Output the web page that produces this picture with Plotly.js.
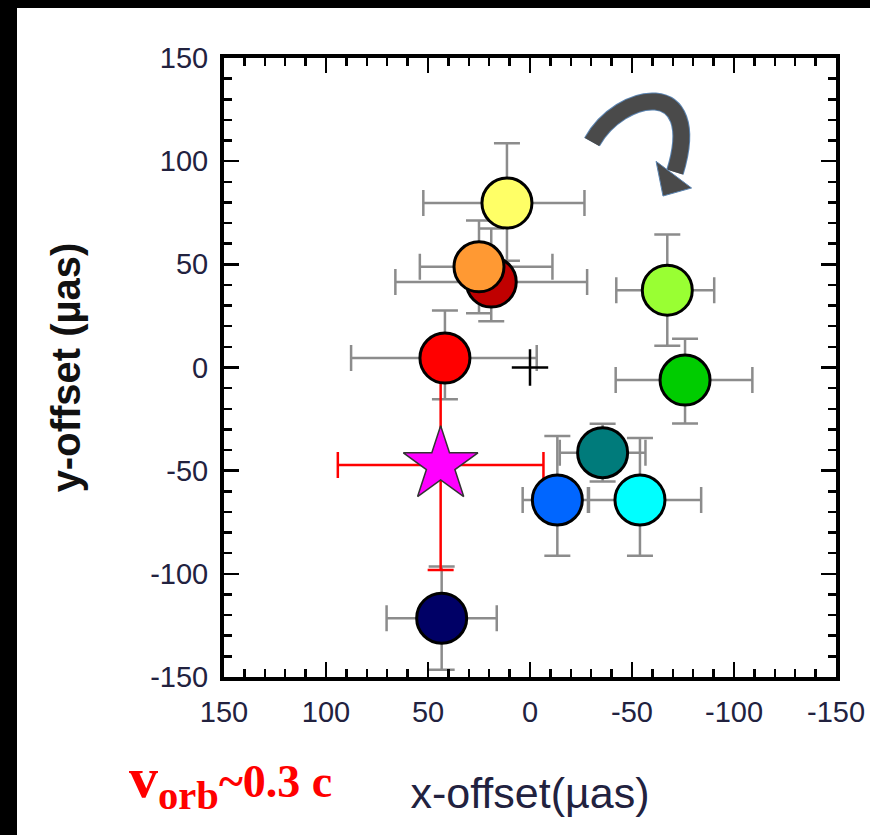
<!DOCTYPE html>
<html><head><meta charset="utf-8">
<script src="https://cdn.plot.ly/plotly-3.0.1.min.js"></script>
<style>
html,body{margin:0;padding:0;background:#fff;width:870px;height:835px;overflow:hidden;}
#topband{position:absolute;left:0;top:0;width:870px;height:8px;background:#000;z-index:5;}
#leftband{position:absolute;left:0;top:0;width:17px;height:835px;background:#000;z-index:5;}
#wrap{position:absolute;left:17px;top:8px;width:853px;height:827px;background:#fff;}
#chart{width:853px;height:827px;}
</style></head><body>
<div id="topband"></div><div id="leftband"></div>
<div id="wrap"><div id="chart"></div></div>
<script>
// Epoch positions (µas), order = drawing order (dark red under orange)
const epochs    = ['dark red','orange','yellow','red','navy','blue','teal','cyan','green','light green'];
const xOffset   = [19, 25, 11.3, 41.7, 43.3, -13.4, -35.6, -53.9, -76, -67.3];
const yOffset   = [41.4, 48.8, 79.7, 4.6, -121.5, -64.2, -41.3, -64.2, -6.1, 37.5];
const xErrPlus  = [47, 29, 41, 46, 27, 17, 21, 25, 34, 25];
const xErrMinus = [47, 36, 38, 45, 27, 15, 21, 30, 33, 23];
const yErrPlus  = [26, 22.5, 29, 23, 25, 31, 14, 30, 20, 27];
const yErrMinus = [19, 22.5, 28, 20, 25, 27, 14, 27, 21, 27];
const epochColors = ['#C00000','#FF9933','#FFFF66','#FF0000','#000066','#0066FF','#007B7B','#00FFFF','#00CC00','#99FF33'];

// Star (mean position) and origin
const starX = [43.8], starY = [-47.2], starErrX = [50.4], starErrY = [51];
const originX = [0], originY = [0];

// Axis ticks
const tickVals = [-150, -100, -50, 0, 50, 100, 150];
const tickText = ['-150', '-100', '-50', '0', '50', '100', '150'];

const tickFont = {family: 'Liberation Sans, Arial, sans-serif', size: 29, color: '#22223f'};
const errGray = '#8c8c8c';

const traces = [
  { type: 'scatter', mode: 'markers', x: xOffset, y: yOffset, hoverinfo: 'skip',
    marker: {size: 10, opacity: 0},
    error_x: {type: 'data', array: xErrPlus, arrayminus: xErrMinus, color: errGray, thickness: 2.5, width: 13},
    error_y: {type: 'data', array: yErrPlus, arrayminus: yErrMinus, color: errGray, thickness: 2.5, width: 13} },
  { type: 'scatter', mode: 'markers', x: starX, y: starY, hoverinfo: 'skip',
    marker: {size: 10, opacity: 0},
    error_x: {type: 'data', array: starErrX, color: '#ff0000', thickness: 2.5, width: 13},
    error_y: {type: 'data', array: starErrY, color: '#ff0000', thickness: 2.5, width: 13} },
  { type: 'scatter', mode: 'markers', x: xOffset, y: yOffset, text: epochs,
    marker: {size: 50, color: epochColors, line: {color: '#000', width: 3}} },
  { type: 'scatter', mode: 'markers', x: starX, y: starY,
    marker: {symbol: 'star', size: 56, color: '#FF00FF', line: {color: '#333', width: 1.5}} },
  { type: 'scatter', mode: 'markers', x: originX, y: originY,
    marker: {symbol: 'cross-thin', size: 26, line: {color: '#000', width: 2.5}} }
];

function axis(range, title, titleFont, standoff) {
  return {
    range: range, autorange: false,
    tickmode: 'array', tickvals: tickVals, ticktext: tickText,
    ticks: 'inside', ticklen: 15, tickwidth: 2.5, tickcolor: '#000',
    showline: true, linewidth: 4, linecolor: '#000', mirror: 'allticks',
    showgrid: false, zeroline: false, tickfont: tickFont, ticklabelstandoff: 6,
    minor: {ticks: 'inside', dtick: 10, tick0: 0, ticklen: 8, tickwidth: 2.5, tickcolor: '#000', showgrid: false},
    title: {text: title, font: titleFont, standoff: standoff}
  };
}

const layout = {
  width: 853, height: 827,
  margin: {l: 207, r: 34, t: 50, b: 158},
  paper_bgcolor: '#fff', plot_bgcolor: '#fff',
  showlegend: false,
  xaxis: axis([150, -150], 'x-offset(µas)', {family: 'Liberation Sans, Arial, sans-serif', size: 43, color: '#22223f'}, 52),
  yaxis: axis([-150, 150], 'y-offset (µas)', {family: 'Liberation Sans, Arial, sans-serif', size: 40, color: '#111', weight: 'bold'}, 58),
  annotations: [{
    xref: 'paper', yref: 'paper', x: -0.1585, y: -0.169, xanchor: 'left', yanchor: 'middle',
    showarrow: false, text: '<b>v<sub>orb</sub><span style="font-size:46px">~0.3 c</span></b>',
    font: {family: 'Liberation Serif, Times New Roman, serif', size: 58, color: '#ff0000'}
  }],
  shapes: [
    {type: 'path', xref: 'paper', yref: 'paper', layer: 'above',
     path: 'M0.6013,0.8643 C0.6471,0.9460 0.7859,0.9730 0.7369,0.8158',
     line: {color: '#5b84b1', width: 18}},
    {type: 'path', xref: 'paper', yref: 'paper', layer: 'above',
     path: 'M0.6013,0.8643 C0.6471,0.9460 0.7859,0.9730 0.7369,0.8158',
     line: {color: '#4a4a4a', width: 16}},
    {type: 'path', xref: 'paper', yref: 'paper', layer: 'above',
     path: 'M0.7060,0.8330 L0.7640,0.7900 L0.7173,0.7770 Z',
     fillcolor: '#4a4a4a', line: {color: '#5b84b1', width: 1}}
  ]
};

Plotly.newPlot('chart', traces, layout, {displayModeBar: false, staticPlot: true});
</script></body></html>
